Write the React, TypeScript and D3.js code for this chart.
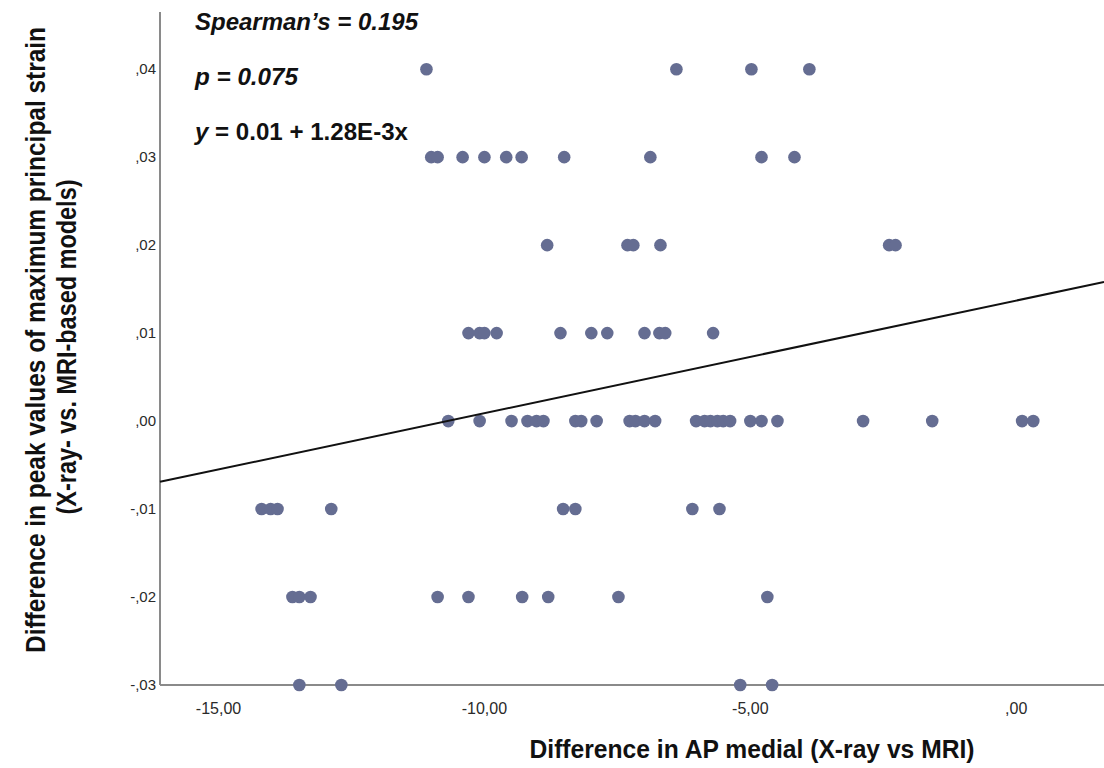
import React, { useEffect, useRef } from 'react';
import * as d3 from 'd3';

// x values of the points, grouped by their y level
const yLevels = [0.04, 0.03, 0.02, 0.01, 0.0, -0.01, -0.02, -0.03];
const xByLevel = [
  [-11.09, -6.39, -4.98, -3.89],
  [-11.0, -10.88, -10.41, -10.0, -9.59, -9.3, -8.5, -6.88, -4.79, -4.17],
  [-8.82, -7.31, -7.2, -6.69, -2.39, -2.27],
  [-10.3, -10.09, -10.0, -9.77, -8.57, -7.99, -7.69, -6.99, -6.71, -6.6, -5.7],
  [-10.68, -10.09, -9.49, -9.19, -9.02, -8.89, -8.29, -8.18, -7.89, -7.27, -7.16, -6.99, -6.79,
    -6.02, -5.86, -5.75, -5.62, -5.51, -5.38, -5.0, -4.79, -4.49, -2.88, -1.58, 0.11, 0.32],
  [-14.19, -14.02, -13.89, -12.88, -8.52, -8.29, -6.09, -5.58],
  [-13.61, -13.48, -13.27, -10.88, -10.3, -9.29, -8.8, -7.48, -4.68],
  [-13.48, -12.69, -5.19, -4.59],
];

const xTicks = [-15, -10, -5, 0];
const yTicks = [0.04, 0.03, 0.02, 0.01, 0.0, -0.01, -0.02, -0.03];

// fit line as drawn
const fitIntercept = 0.0137;
const fitSlope = 0.00128;

const statLines = ['Spearman\u2019s = 0.195', 'p = 0.075', 'y = 0.01 + 1.28E-3x'];

const spssFormat = (v: number) =>
  d3.format('.2f')(v).replace('\u2212', '-').replace('.', ',').replace(/^(-?)0,/, '$1,');

function App() {
  const svgRef = useRef<SVGSVGElement>(null);
  const width = 1104;
  const height = 768;

  useEffect(() => {
    const svg = d3.select(svgRef.current);
    svg.selectAll('*').remove();

    const xScale = d3.scaleLinear().domain([-16.1, 1.65]).range([160, 1104]);
    const yScale = d3.scaleLinear().domain([-0.03, 0.0465]).range([685, 12]);

    svg.append('rect').attr('width', width).attr('height', height).attr('fill', '#fff');

    // axes
    svg.append('line')
      .attr('x1', 160).attr('x2', 160)
      .attr('y1', yScale(0.0465)).attr('y2', yScale(-0.03))
      .attr('stroke', '#8a8a8a').attr('stroke-width', 2);
    svg.append('line')
      .attr('x1', 160).attr('x2', 1104)
      .attr('y1', yScale(-0.03)).attr('y2', yScale(-0.03))
      .attr('stroke', '#8a8a8a').attr('stroke-width', 2);

    // tick labels
    svg.selectAll('text.ytick')
      .data(yTicks)
      .enter()
      .append('text')
      .attr('class', 'ytick')
      .attr('x', 156)
      .attr('y', d => yScale(d) + 5)
      .attr('text-anchor', 'end')
      .attr('font-family', 'Liberation Sans, Arial, sans-serif')
      .attr('font-size', 15)
      .attr('fill', '#2a2a2a')
      .text(d => spssFormat(d));

    svg.selectAll('text.xtick')
      .data(xTicks)
      .enter()
      .append('text')
      .attr('class', 'xtick')
      .attr('x', d => xScale(d))
      .attr('y', 714)
      .attr('text-anchor', 'middle')
      .attr('font-family', 'Liberation Sans, Arial, sans-serif')
      .attr('font-size', 16)
      .attr('fill', '#2a2a2a')
      .text(d => spssFormat(d));

    // points
    const points = yLevels.flatMap((y, i) => xByLevel[i].map(x => ({ x, y })));
    svg.selectAll('circle')
      .data(points)
      .enter()
      .append('circle')
      .attr('cx', d => xScale(d.x))
      .attr('cy', d => yScale(d.y))
      .attr('r', 6.3)
      .attr('fill', '#656d92');

    // fit line
    const [x0, x1] = xScale.domain();
    svg.append('line')
      .attr('x1', xScale(x0)).attr('y1', yScale(fitIntercept + fitSlope * x0))
      .attr('x2', xScale(x1)).attr('y2', yScale(fitIntercept + fitSlope * x1))
      .attr('stroke', '#111').attr('stroke-width', 2);

    // stats text
    const statWidths = [223, 103, 213];
    const font = 'Liberation Sans, Arial, sans-serif';
    statLines.forEach((s, i) => {
      const t = svg.append('text')
        .attr('x', 195)
        .attr('y', 30 + i * 55)
        .attr('font-family', font)
        .attr('font-size', 23)
        .attr('font-weight', 'bold')
        .attr('fill', '#111')
        .attr('textLength', statWidths[i])
        .attr('lengthAdjust', 'spacingAndGlyphs');
      if (i < 2) {
        t.attr('font-style', 'italic').text(s);
      } else {
        t.append('tspan').attr('font-style', 'italic').text('y');
        t.append('tspan').text(s.slice(1));
      }
    });

    // axis titles (condensed look: smaller font stretched vertically)
    const xTitle = svg.append('g').attr('transform', 'translate(752,758) scale(1,1.2)');
    xTitle.append('text')
      .attr('x', 0).attr('y', 0)
      .attr('text-anchor', 'middle')
      .attr('font-family', font)
      .attr('font-size', 22)
      .attr('font-weight', 'bold')
      .attr('fill', '#111')
      .attr('textLength', 445)
      .attr('lengthAdjust', 'spacingAndGlyphs')
      .text('Difference in AP medial (X-ray vs MRI)');

    const yTitle1 = svg.append('g').attr('transform', 'translate(45,340) rotate(-90) scale(1,1.3)');
    yTitle1.append('text')
      .attr('x', 0).attr('y', 0)
      .attr('text-anchor', 'middle')
      .attr('font-family', font)
      .attr('font-size', 21)
      .attr('font-weight', 'bold')
      .attr('fill', '#111')
      .attr('textLength', 626)
      .attr('lengthAdjust', 'spacingAndGlyphs')
      .text('Difference in peak values of maximum principal strain');
    const yTitle2 = svg.append('g').attr('transform', 'translate(76,347) rotate(-90) scale(1,1.3)');
    yTitle2.append('text')
      .attr('x', 0).attr('y', 0)
      .attr('text-anchor', 'middle')
      .attr('font-family', font)
      .attr('font-size', 21)
      .attr('font-weight', 'bold')
      .attr('fill', '#111')
      .attr('textLength', 335)
      .attr('lengthAdjust', 'spacingAndGlyphs')
      .text('(X-ray- vs. MRI-based models)');
  }, []);

  return (
    <svg
      ref={svgRef}
      width={width}
      height={height}
      style={{ position: 'absolute', left: 0, top: 0, display: 'block' }}
    />
  );
}

export default App;
